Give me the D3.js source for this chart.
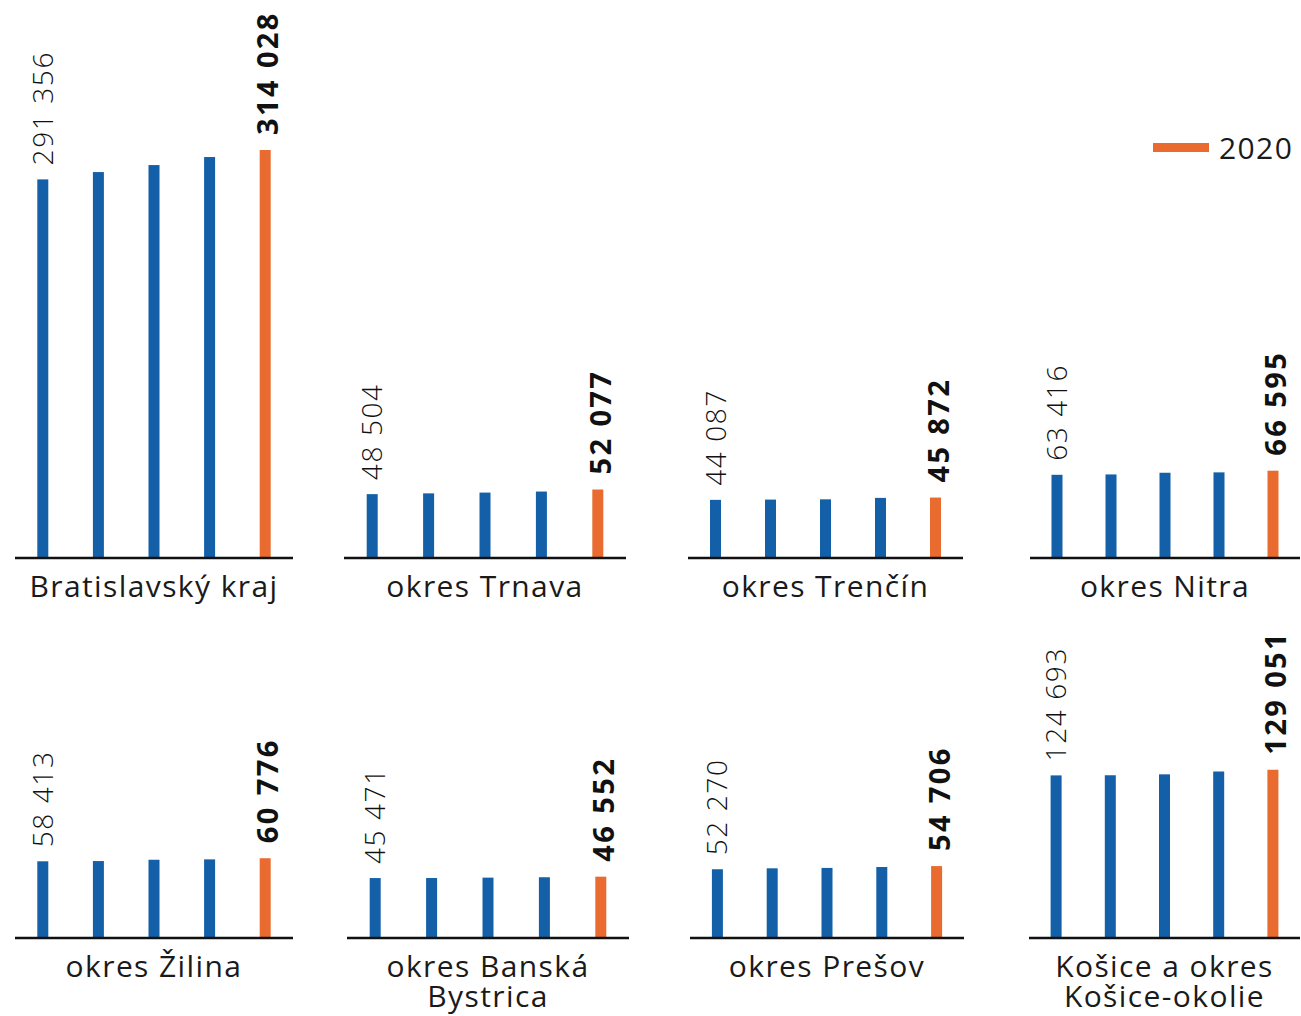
<!DOCTYPE html>
<html><head><meta charset="utf-8">
<script src="https://cdn.jsdelivr.net/npm/d3@7"></script>
<style>
html,body{margin:0;padding:0;background:#fff;}
svg text{font-family:"Open Sans","Noto Sans",sans-serif;fill:#1a1a1a;}
</style></head>
<body><svg id="c" width="1301" height="1016"></svg>
<script>
const regions = [
  ["Bratislavský kraj"], ["okres Trnava"], ["okres Trenčín"], ["okres Nitra"],
  ["okres Žilina"], ["okres Banská", "Bystrica"], ["okres Prešov"], ["Košice a okres", "Košice-okolie"]
];
const years = [2016, 2017, 2018, 2019, 2020];
const v2016 = [291356, 48504, 44087, 63416, 58413, 45471, 52270, 124693];
const v2017 = [297000, 49100, 44300, 63700, 58600, 45500, 53000, 124800];
const v2018 = [302400, 49700, 44500, 65000, 59600, 45800, 53300, 125500];
const v2019 = [308600, 50500, 45600, 65300, 59900, 46100, 54000, 127700];
const v2020 = [314028, 52077, 45872, 66595, 60776, 46552, 54706, 129051];
const series = [v2016, v2017, v2018, v2019, v2020];
const legendLabel = "2020";

const BLUE = "#1360a8", ORANGE = "#e96b2f";
const panelX = [[15,293],[344,626],[688,963],[1030,1300],[15,293],[347,629],[690,964],[1029,1300]];
const baselines = [557, 937];
const labelOffset = [40, 40];

const svg = d3.select("#c");
const y = d3.scaleLinear().domain([0, 314028]).range([0, 407]);
const fmt = v => d3.format(",")(v).replace(/,/g, " ");

regions.forEach((names, i) => {
  const row = i < 4 ? 0 : 1;
  const base = baselines[row];
  const [x0, x1] = panelX[i];
  const x = d3.scalePoint().domain(years).range([x0, x1]).padding(0.5);
  const g = svg.append("g");
  const vals = series.map(s => s[i]);
  g.selectAll("rect").data(vals).join("rect")
    .attr("x", (d, k) => x(years[k]) - 5.5)
    .attr("width", 11)
    .attr("y", d => base - y(d))
    .attr("height", d => y(d))
    .attr("fill", (d, k) => k === 4 ? ORANGE : BLUE);
  g.append("line").attr("x1", x0).attr("x2", x1).attr("y1", base + 1).attr("y2", base + 1)
    .attr("stroke", "#111").attr("stroke-width", 2.6);
  const xf = x(years[0]), yf = base - y(vals[0]) - 14;
  g.append("text").attr("transform", `translate(${xf + 10},${yf}) rotate(-90)`)
    .attr("font-size", 28).attr("font-weight", 300).attr("letter-spacing", 1.6)
    .style("fill", "#111").text(fmt(vals[0]));
  const xl = x(years[4]), yl = base - y(vals[4]) - 15;
  g.append("text").attr("transform", `translate(${xl + 13},${yl}) rotate(-90)`)
    .attr("font-size", 29).attr("font-weight", 700).attr("letter-spacing", 2.4)
    .style("fill", "#111").text(fmt(vals[4]));
  const cx = (x0 + x1) / 2;
  names.forEach((n, j) => g.append("text").attr("text-anchor", "middle")
    .attr("font-size", 30).attr("letter-spacing", 1.4)
    .attr("x", cx).attr("y", base + labelOffset[row] + j * 30).text(n));
});

svg.append("rect").attr("x", 1153).attr("y", 143).attr("width", 56).attr("height", 9).attr("fill", ORANGE);
svg.append("text").attr("x", 1219).attr("y", 159).attr("font-size", 30).attr("letter-spacing", 1.4).text(legendLabel);
</script></body></html>
